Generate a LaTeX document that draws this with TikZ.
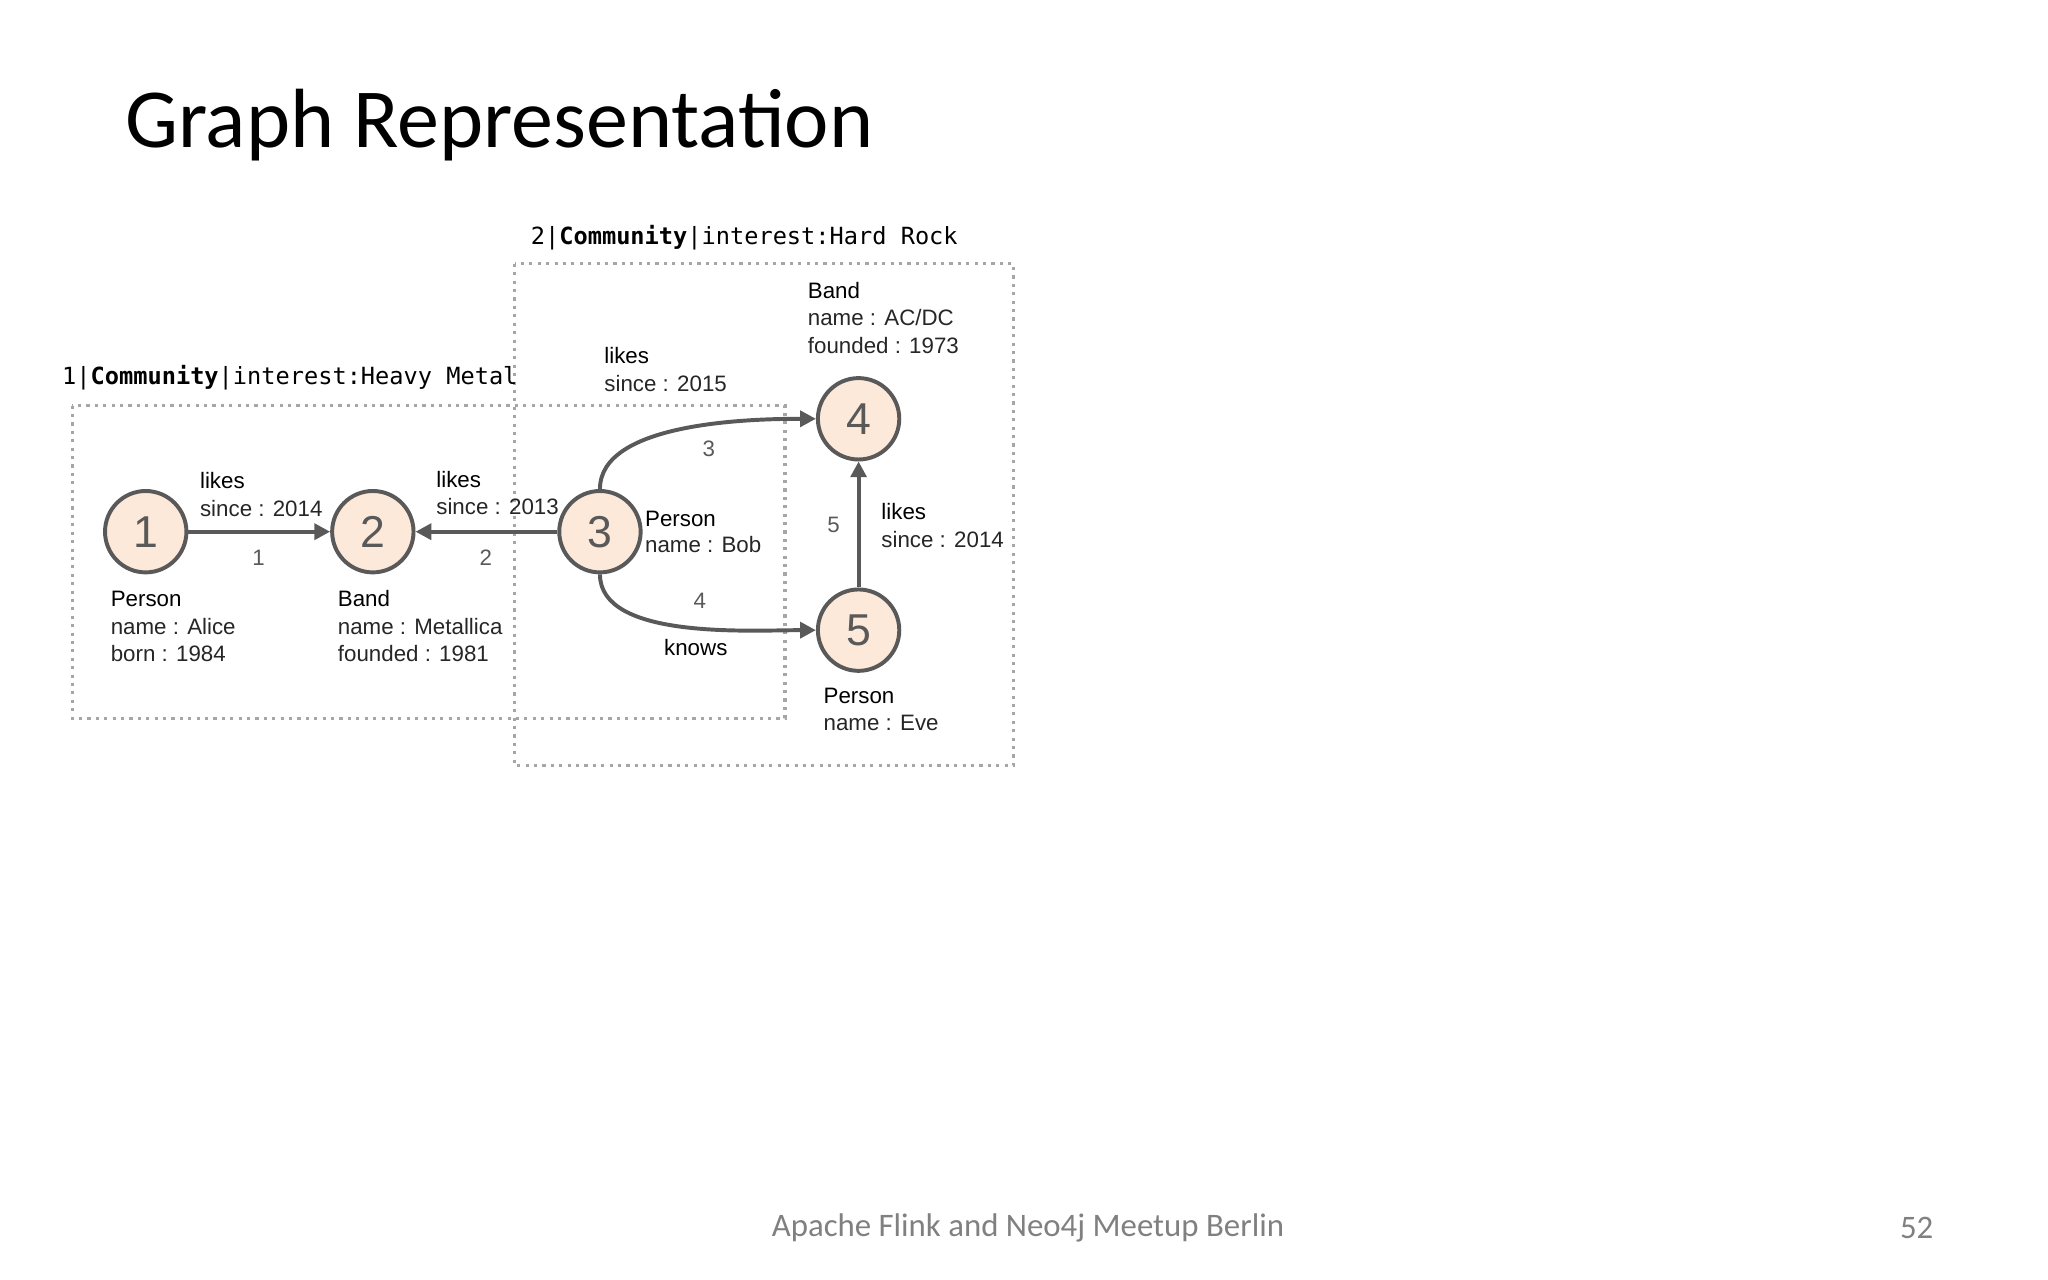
\documentclass[tikz,border=0pt]{standalone}
\usepackage{fontspec}
\setmainfont{Liberation Sans}
\newfontfamily\slidefont{Carlito}
\newfontfamily\monofont{DejaVu Sans Mono}
\usetikzlibrary{arrows.meta}
\definecolor{edge}{HTML}{595959}
\definecolor{peach}{HTML}{FCE9DA}
\definecolor{dotc}{HTML}{A6A6A6}
\begin{document}
\begin{tikzpicture}[x=0.5pt,y=-0.5pt,
  vtx/.style={circle,draw=edge,line width=1.5pt,fill=peach,minimum size=31pt,inner sep=0pt,font=\fontsize{17}{17}\selectfont,text=edge},
  lab/.style={anchor=west,inner sep=0pt,font=\fontsize{8.5}{10}\selectfont,text=black!85},
  num/.style={inner sep=0pt,font=\fontsize{8.5}{10}\selectfont,text=edge},
  comm/.style={anchor=west,inner sep=0pt,font=\monofont\fontsize{9}{10}\selectfont},
  box/.style={draw=dotc,line width=1.2pt,dash pattern=on 1.2pt off 2pt},
  arr/.style={draw=edge,line width=1.5pt,-{Triangle[length=6pt,width=6pt]}}]
\useasboundingbox (0,0) rectangle (1560,975);
\node[anchor=base west,inner sep=0pt,font=\slidefont\fontsize{32}{32}\selectfont] (title) at (95,112) {Graph Representation};
\node[inner sep=0pt,font=\slidefont\fontsize{12.5}{13}\selectfont,text=black!50] (foot) at (783,935) {Apache Flink and Neo4j Meetup Berlin};
\node[inner sep=0pt,font=\slidefont\fontsize{12.5}{13}\selectfont,text=black!50] (page) at (1460,935) {52};
\draw[box] (55,309) rectangle (598,547);
\draw[box] (392,201) rectangle (772,583);
\node[comm] (c1) at (47,288) {1|\textbf{Community}|interest:Heavy Metal};
\node[comm] (c2) at (404,181) {2|\textbf{Community}|interest:Hard Rock};
\node[vtx] (v1) at (111,405) {1};
\node[vtx] (v2) at (284,405) {2};
\node[vtx] (v3) at (457,405) {3};
\node[vtx] (v4) at (654,319) {4};
\node[vtx] (v5) at (654,480) {5};
\draw[arr] (v1) -- (v2);
\draw[arr] (v3) -- (v2);
\draw[arr] (v3.north) to[out=90,in=180,looseness=0.75] (v4.west);
\draw[arr] (v3.south) to[out=-90,in=180,looseness=0.75] (v5.west);
\draw[arr] (v5) -- (v4);
% edge labels
\node[lab,text=black] (e1a) at (152,366) {likes};
\node[lab] (e1b) at (152,387) {since : 2014};
\node[num] (e1n) at (197,425) {1};
\node[lab,text=black] (e2a) at (332,365) {likes};
\node[lab] (e2b) at (332,386) {since : 2013};
\node[num] (e2n) at (370,425) {2};
\node[lab,text=black] (e3a) at (460,271) {likes};
\node[lab] (e3b) at (460,292) {since : 2015};
\node[num] (e3n) at (540,342) {3};
\node[num] (e4n) at (533,458) {4};
\node[num,text=black] (e4a) at (530,493) {knows};
\node[num] (e5n) at (635,400) {5};
\node[lab,text=black] (e5a) at (671,390) {likes};
\node[lab] (e5b) at (671,411) {since : 2014};
% vertex labels
\node[lab,text=black] (p1a) at (84,456) {Person};
\node[lab] (p1b) at (84,477) {name : Alice};
\node[lab] (p1c) at (84,498) {born : 1984};
\node[lab,text=black] (p2a) at (257,456) {Band};
\node[lab] (p2b) at (257,477) {name : Metallica};
\node[lab] (p2c) at (257,498) {founded : 1981};
\node[lab,text=black] (p3a) at (491,395) {Person};
\node[lab] (p3b) at (491,415) {name : Bob};
\node[lab,text=black] (p4a) at (615,221) {Band};
\node[lab] (p4b) at (615,242) {name : AC/DC};
\node[lab] (p4c) at (615,263) {founded : 1973};
\node[lab,text=black] (p5a) at (627,530) {Person};
\node[lab] (p5b) at (627,551) {name : Eve};
\end{tikzpicture}
\end{document}
